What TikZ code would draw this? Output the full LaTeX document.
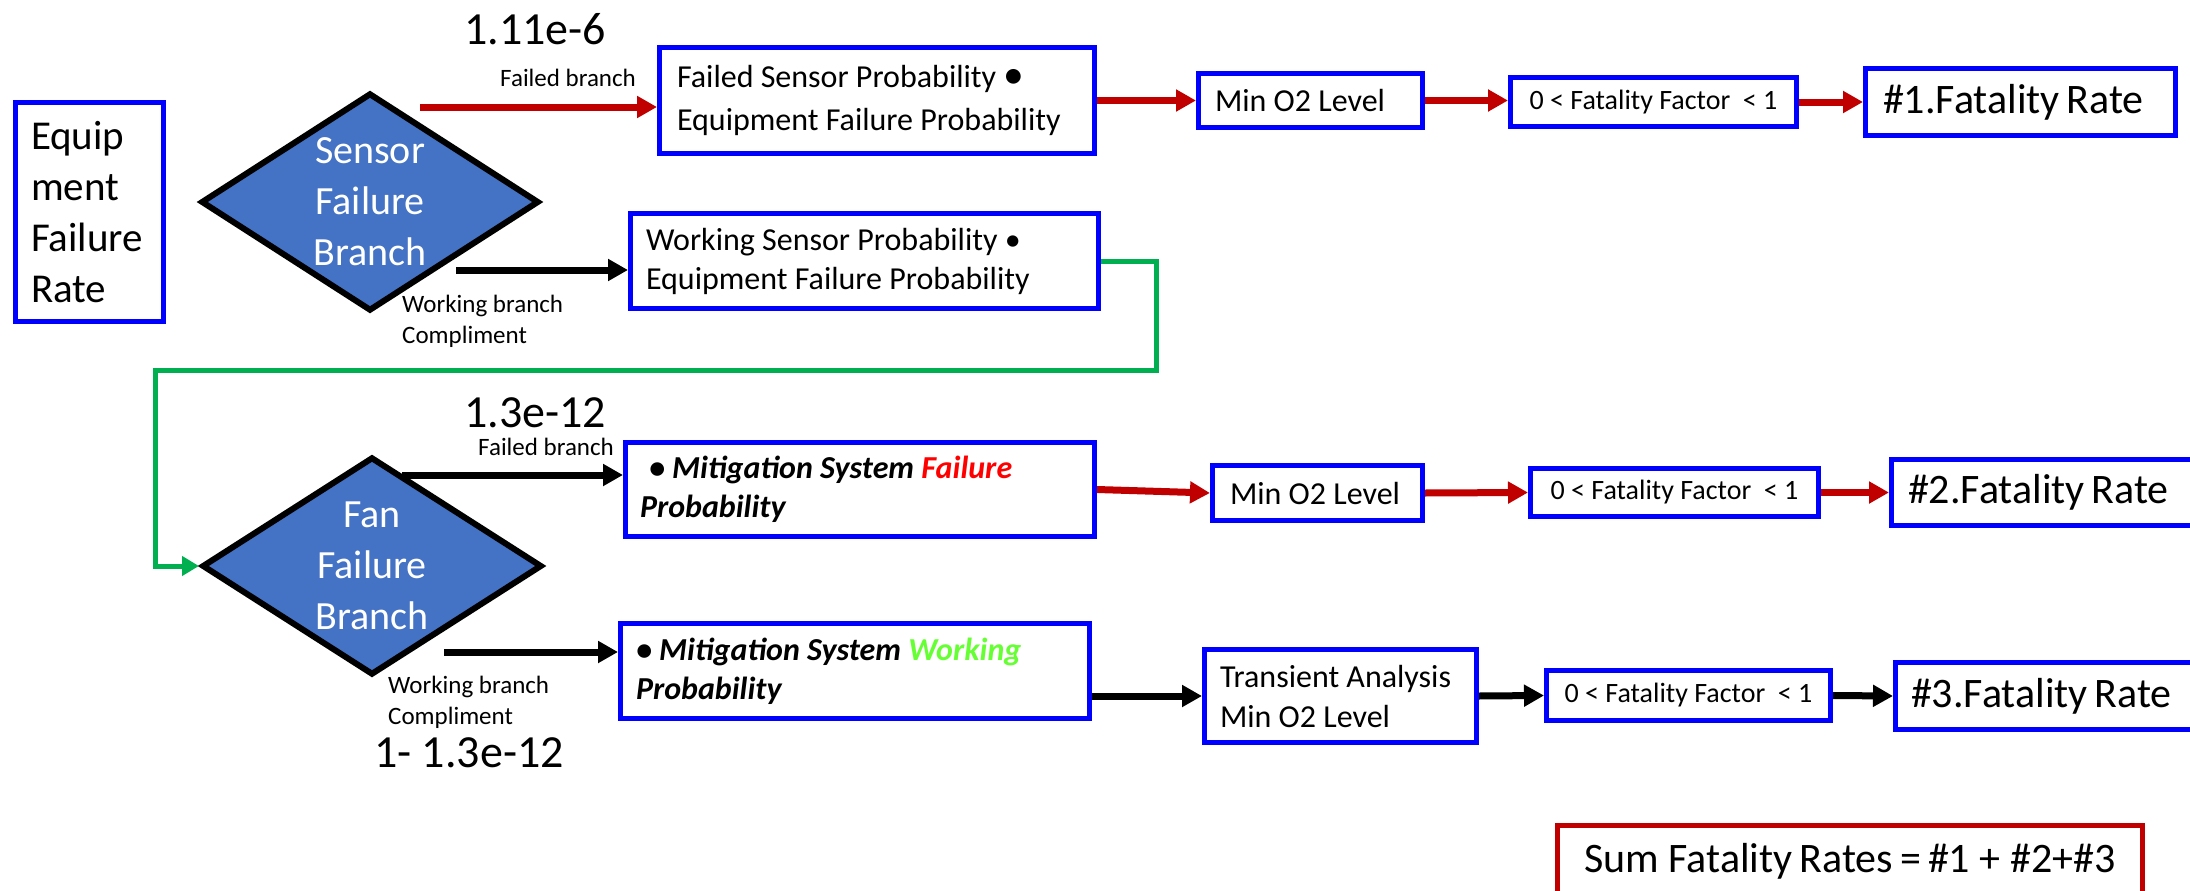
\documentclass[tikz,border=0pt]{standalone}
\usepackage{graphicx}
\usepackage{fontspec}
\setmainfont{Carlito}
\usetikzlibrary{arrows.meta,shapes.geometric}
\definecolor{boxblue}{HTML}{0000FF}
\definecolor{flowred}{HTML}{C00000}
\definecolor{loopgreen}{HTML}{00B050}
\definecolor{dfill}{HTML}{4472C4}
\definecolor{txtred}{HTML}{FF0000}
\definecolor{txtgreen}{HTML}{66FF33}
\newcommand\fsz[2]{\fontsize{#1}{#2}\selectfont}
% two stacked lines whose baseline is that of the first line
\newcommand\twolines[2]{\vtop{\hbox{#1}\hbox{#2}}}
\begin{document}
\begin{tikzpicture}[x=1pt,y=-1pt,
  bx/.style={draw=boxblue,line width=5pt,rectangle,fill=white,inner ysep=0pt},
  lbox/.style n args={3}{bx,align=flush left,text width=#1,inner xsep=#2,minimum height=#3},
  cbox/.style n args={2}{bx,align=center,minimum width=#1,minimum height=#2,inner xsep=0pt},
  decision/.style={shape=diamond,draw=black,line width=6pt,fill=dfill,
    inner sep=0pt,aspect=1.55,minimum height=218,minimum width=#1},
  dtext/.style={text=white,align=center,font=\fsz{40}{51}},
  redarr/.style={draw=flowred,line width=7pt,-{Triangle[length=20pt,width=21pt]}},
  blkarr/.style={draw=black,line width=7pt,-{Triangle[length=20pt,width=21pt]}},
  grnline/.style={draw=loopgreen,line width=5pt,-{Triangle[length=17pt,width=19pt]}},
  bigval/.style={anchor=base west,inner sep=0pt,font=\fsz{46}{55}},
  small/.style={anchor=base west,inner sep=0pt,font=\fsz{25}{31}},
  mid/.style={font=\fsz{32}{39}},
  ffac/.style={font=\fsz{28}{34}},
  rate/.style={font=\fsz{42}{50}}
]
\useasboundingbox (0,0) rectangle (2190,891);

% starting box
\node[lbox={117}{15.5}{219},font=\fsz{41}{51}] (equip) at (89.5,212)
  {Equip\\ment\\Failure\\Rate};

% decision diamonds
\node[decision=338] (sensor) at (370,202) {};
\node[dtext] (sensortxt) at (sensor.center) {Sensor\\Failure\\Branch};
\node[decision=340] (fan) at (372,566) {};
\node[dtext] (fantxt) at (fan.center) {Fan\\Failure\\Branch};

% sensor branch boxes
\node[lbox={400}{17.5}{106},font=\fsz{32}{43}] (failed) at (877,100.5)
  {\mbox{Failed Sensor Probability \raisebox{-1pt}{\scalebox{1.3}{\textbullet}}}\\
   \mbox{Equipment Failure Probability}};
\node[lbox={437}{15.5}{95},font=\fsz{32}{39}] (working) at (864.5,261)
  {\mbox{Working Sensor Probability \textbullet}\\
   \mbox{Equipment Failure Probability}};
\node[lbox={191}{16.5}{54},mid] (minA) at (1310.5,100.5) {\mbox{Min O2 Level}};
\node[cbox={286}{49},ffac] (ffA) at (1653.5,102) {0 < Fatality Factor\ \ < 1};
\node[lbox={275}{17.5}{67},rate] (rateA) at (2020.5,102) {\mbox{\#1.Fatality\,Rate}};

% fan branch boxes
\node[lbox={440}{14.5}{94},font=\fsz{32}{39}\bfseries\itshape] (mitfail) at (860,489.5)
  {\mbox{\hspace*{9pt}\textbullet\ Mitigation System \textcolor{txtred}{Failure}}\\
   \mbox{Probability}};
\node[lbox={175}{17.5}{55},mid] (minB) at (1317.5,493) {\mbox{Min O2 Level}};
\node[cbox={288}{48},ffac] (ffB) at (1674.5,492.5) {0 < Fatality Factor\ \ < 1};
\node[lbox={273}{16.5}{66},rate] (rateB) at (2044.5,492.5) {\mbox{\#2.Fatality\,Rate}};

\node[lbox={438}{15.5}{95},font=\fsz{32}{39}\bfseries\itshape] (mitwork) at (855,671)
  {\mbox{\textbullet\ Mitigation System \textcolor{txtgreen}{Working}}\\
   \mbox{Probability}};
\node[lbox={241}{15.5}{93},font=\fsz{32}{40}] (trans) at (1340.5,696)
  {\mbox{Transient Analysis}\\\mbox{Min O2 Level}};
\node[cbox={284}{50},ffac] (ffC) at (1688.5,695.5) {0 < Fatality Factor\ \ < 1};
\node[lbox={271}{15.5}{67},rate] (rateC) at (2046.5,696) {\mbox{\#3.Fatality\,Rate}};

% total
\node[bx,draw=flowred,minimum width=585,minimum height=72,inner xsep=0pt,rate] (sum)
  at (1850,861.5) {Sum Fatality\,Rates\,=\,\#1 + \#2+\#3};

% probability labels
\node[bigval] (pA) at (464,45) {1.11e-6};
\node[small] (fbA) at (500,86) {Failed branch};
\node[small] (wbA) at (402,312) {\twolines{Working branch}{Compliment}};
\node[bigval] (pB) at (464,427) {1.3e-12};
\node[small] (fbB) at (478,455) {Failed branch};
\node[small] (wbB) at (388,693) {\twolines{Working branch}{Compliment}};
\node[bigval] (pC) at (374,767) {1- 1.3e-12};

% branch outlets
\coordinate (sFailOut) at (420,107);
\coordinate (sWorkOut) at (456,270);
\coordinate (fFailOut) at (402,475);
\coordinate (fWorkOut) at (444,652);
\coordinate (loopNE) at (1156,370);
\coordinate (loopNW) at (155,370);

% connectors
\draw[redarr] (sFailOut) -- (sFailOut -| failed.west);
\draw[redarr] (failed.east) -- (minA.west);
\draw[redarr] (minA.east) -- (minA.east -| ffA.west);
\draw[redarr] (ffA.east) -- (rateA.west);
\draw[blkarr] (sWorkOut) -- (sWorkOut -| working.west);
\draw[grnline] (working.east) -| (loopNE) -- (loopNW) |- (fan.west);

\draw[blkarr] (fFailOut) -- (fFailOut -| mitfail.west);
\draw[redarr] (mitfail.east) -- (minB.west);
\draw[redarr] (minB.east) -- (ffB.west);
\draw[redarr] (ffB.east) -- (rateB.west);

\draw[blkarr] (fWorkOut) -- (fWorkOut -| mitwork.west);
\draw[blkarr] (mitwork.east |- trans.west) -- (trans.west);
\draw[blkarr] (trans.east) -- (ffC.west);
\draw[blkarr] (ffC.east) -- (rateC.west);
\end{tikzpicture}
\end{document}
